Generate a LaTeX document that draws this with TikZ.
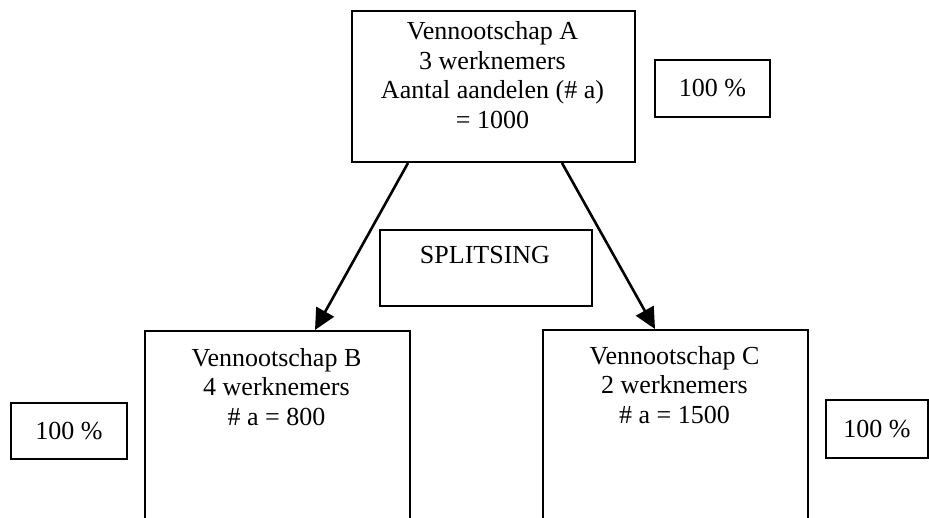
\documentclass[tikz,border=0pt]{standalone}
\usepackage{fontspec}
\setmainfont{Liberation Serif}
\usetikzlibrary{arrows.meta}
\begin{document}
\begin{tikzpicture}[x=1pt,y=-1pt,
  frame/.style={draw, line width=2pt, inner sep=0pt, anchor=north west},
  label text/.style={font=\fontsize{26}{29.5}\selectfont, align=center, inner sep=0pt},
  flow/.style={line width=2.6pt, -{Triangle[length=21pt,width=20pt]}}
]
\clip (0,0) rectangle (929,517);
\fill[white] (0,0) rectangle (929,517);

% company boxes
\node[frame, minimum width=283pt, minimum height=151pt] (boxA) at (351,10) {};
\node[frame, minimum width=265pt, minimum height=220pt] (boxB) at (144,330) {};
\node[frame, minimum width=265pt, minimum height=220pt] (boxC) at (542,329) {};
\node[frame, minimum width=212pt, minimum height=76pt] (boxS) at (379,229) {};

% box contents
\node[label text, anchor=north] (txtA) at (492.5,21.5)
  {Vennootschap A\\3 werknemers\\Aantal aandelen (\# a)\\= 1000};
\node[label text, anchor=north] (txtB) at (276.5,348)
  {Vennootschap B\\4 werknemers\\\# a = 800};
\node[label text, anchor=north] (txtC) at (674.5,346)
  {Vennootschap C\\2 werknemers\\\# a = 1500};
\node[label text, anchor=base] (txtS) at (485,263) {SPLITSING};

% ownership percentages
\node[frame, label text, minimum width=115pt, minimum height=57pt] (pctA) at (654,59) {100 \%};
\node[frame, label text, minimum width=116pt, minimum height=56pt] (pctB) at (10,402) {100 \%};
\node[frame, label text, minimum width=102pt, minimum height=58pt] (pctC) at (825,399) {100 \%};

% split arrows
\draw[flow] ([xshift=57pt]boxA.south west) -- ([xshift=171pt]boxB.north west);
\draw[flow] ([xshift=211pt]boxA.south west) -- ([xshift=113pt]boxC.north west);
\end{tikzpicture}
\end{document}
